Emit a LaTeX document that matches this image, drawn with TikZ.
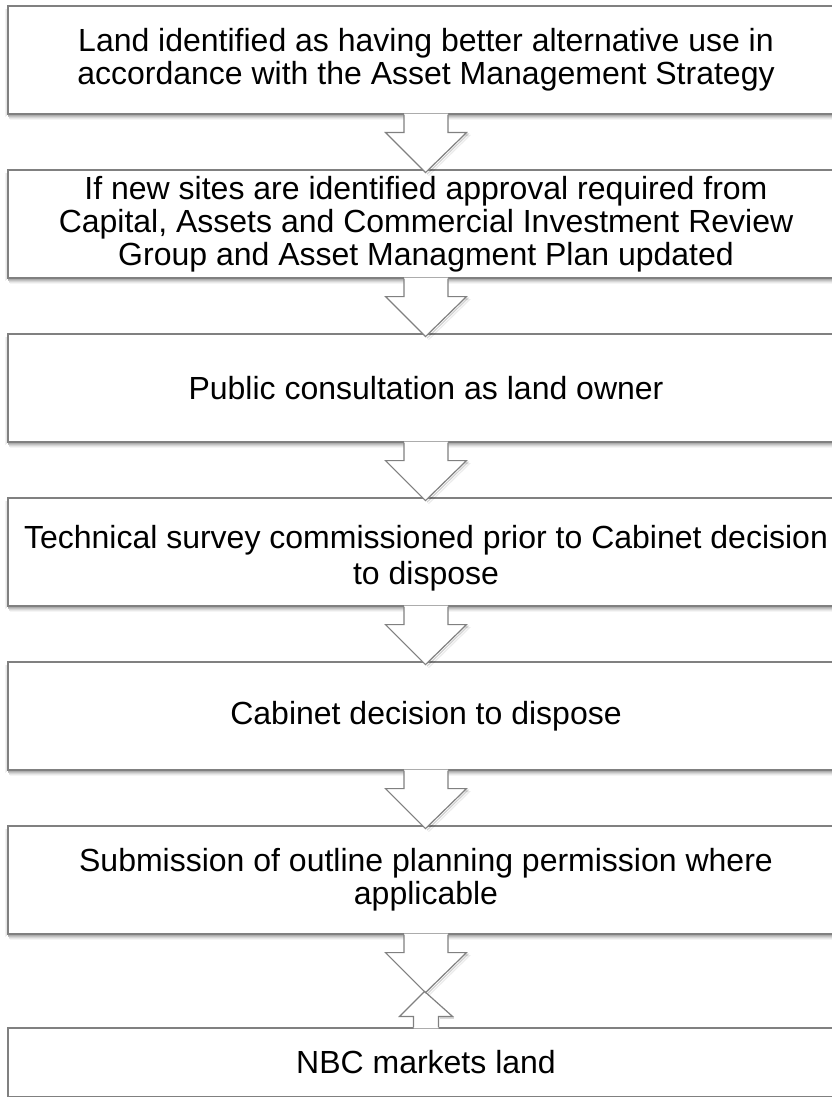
\documentclass[tikz,border=0pt]{standalone}
\usepackage{fontspec}
\setmainfont{Liberation Sans}
\usetikzlibrary{calc}
\definecolor{boxline}{RGB}{128,128,128}
\tikzset{
  box/.style={draw=boxline, line width=1.2pt, fill=white, minimum width=836pt,
    minimum height=108pt, inner sep=0pt, align=center,
    font=\fontsize{32}{33}\selectfont},
  boxtext/.style={inner sep=0pt, align=center, font=\fontsize{32}{36}\selectfont},
  arrline/.style={draw=boxline, line width=1.2pt, line join=miter},
  shadowline/.style={draw=black, line width=1.2pt, line join=miter},
}
\newcommand\boxshadow[1]{%
  \foreach \k/\o in {1/0.32,2/0.24,3/0.16,4/0.09,5/0.04}{%
    \draw[black, opacity=\o, line width=1pt]
      ($(#1.south west)+(\k*0.5,\k)$) -- ($(#1.south east)+(0,\k)$);
  }%
  \foreach \k/\o in {1/0.10,2/0.05}{%
    \draw[black, opacity=\o, line width=1pt]
      ($(#1.north west)+(-\k,4)$) -- ($(#1.south west)+(-\k,\k)$);
  }%
}
% down block arrow from box #1 towards box #2
\newcommand\flowarr[2]{%
  \foreach \k/\o in {1.5/0.18,3/0.08}{%
    \draw[shadowline, opacity=\o]
      ($(#1.south)+(22+\k,18+\k)$) -- ($(#1.south)+(40.5+\k,18+\k)$)
      -- ($(#1.south)+(-0.5+\k,58+\k)$);
  }%
  \fill[white] ($(#1.south)+(-22,-1)$) -- ($(#1.south)+(-22,18)$)
    -- ($(#1.south)+(-40.5,18)$) -- ($(#1.south)+(-0.5,58)$)
    -- ($(#1.south)+(40.5,18)$) -- ($(#1.south)+(22,18)$)
    -- ($(#1.south)+(22,-1)$) -- cycle;
  \draw[arrline] ($(#1.south)+(-22,0)$) -- ($(#1.south)+(-22,18)$)
    -- ($(#1.south)+(-40.5,18)$) -- ($(#1.south)+(-0.5,58)$)
    -- ($(#1.south)+(40.5,18)$) -- ($(#1.south)+(22,18)$)
    -- ($(#1.south)+(22,0)$);
}
\begin{document}
\begin{tikzpicture}[x=1pt,y=-1pt]
\useasboundingbox (0,0) rectangle (832,1097);
\clip (0,0) rectangle (832,1097);
\fill[white] (0,0) rectangle (832,1097);

\node[box] (b1) at (426,60) {Land identified as having better alternative use in\\accordance with the Asset Management Strategy};
\node[box] (b2) at (426,224) {If new sites are identified approval required from\\Capital, Assets and Commercial Investment Review\\Group and Asset Managment Plan updated};
\node[box] (b3) at (426,388) {Public consultation as land owner};
\node[box] (b4) at (426,552) {};
\node[boxtext] (t4) at (426,558) {Technical survey commissioned prior to Cabinet decision\\to dispose};
\node[box] (b5) at (426,716) {Cabinet decision to dispose};
\node[box] (b6) at (426,880) {Submission of outline planning permission where\\applicable};
\node[box, minimum height=69pt] (b7) at (426,1062.5) {NBC markets land};

\boxshadow{b1}\boxshadow{b2}\boxshadow{b3}\boxshadow{b4}\boxshadow{b5}\boxshadow{b6}

\flowarr{b1}{b2}
\flowarr{b2}{b3}
\flowarr{b3}{b4}
\flowarr{b4}{b5}
\flowarr{b5}{b6}

% last connector: down arrow from b6 crossing an up arrow from b7
\draw[shadowline, opacity=0.15] ($(b7.north)+(13.5,-9.5)$) -- ($(b7.north)+(27.5,-9.5)$);
\fill[white] ($(b7.north)+(-12.5,1)$) -- ($(b7.north)+(-12.5,-11)$)
  -- ($(b7.north)+(-26.5,-11)$) -- ($(b7.north)+(-1,-36)$)
  -- ($(b7.north)+(26.5,-11)$) -- ($(b7.north)+(12.5,-11)$)
  -- ($(b7.north)+(12.5,1)$) -- cycle;
\flowarr{b6}{b7}
\draw[arrline] ($(b7.north)+(-12.5,0)$) -- ($(b7.north)+(-12.5,-11)$)
  -- ($(b7.north)+(-26.5,-11)$) -- ($(b7.north)+(-1.5,-36)$)
  -- ($(b7.north)+(26.5,-11)$) -- ($(b7.north)+(12.5,-11)$)
  -- ($(b7.north)+(12.5,0)$);
\end{tikzpicture}
\end{document}
